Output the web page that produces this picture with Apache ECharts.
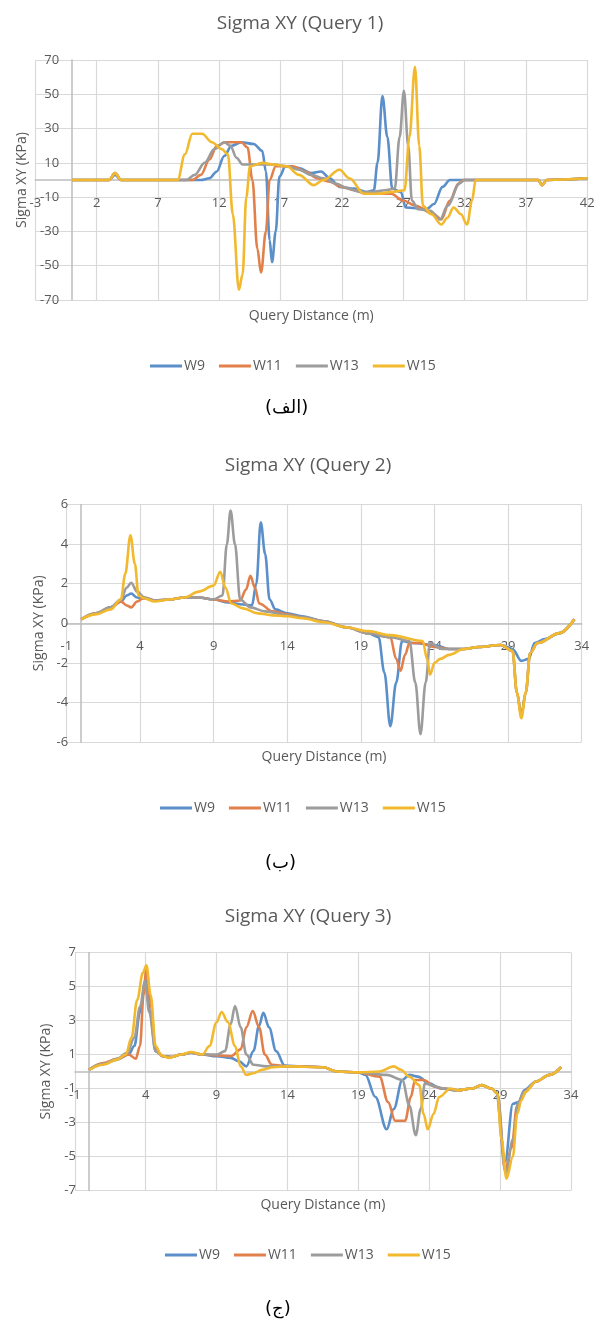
<!DOCTYPE html>
<html>
<head>
<meta charset="utf-8">
<title>Sigma XY</title>
<script src="https://cdn.jsdelivr.net/npm/echarts@6/dist/echarts.min.js"></script>
<style>
  html, body { margin: 0; padding: 0; background: #fff; }
  #chart { width: 597px; height: 1320px; }
</style>
</head>
<body>
<div id="chart"></div>
<script>
// series names and captions
const seriesNames = ["W9", "W11", "W13", "W15"];
const captions = ["(الف)", "(ب)", "(ج)"];
const titles = ["Sigma XY (Query 1)", "Sigma XY (Query 2)", "Sigma XY (Query 3)"];

// axis ranges [min, max, interval]
const q1XAxis = [-3, 42, 5];
const q1YAxis = [-70, 70, 20];
const q2XAxis = [-1, 34, 5];
const q2YAxis = [-6, 6, 2];
const q3XAxis = [-1, 34, 5];
const q3YAxis = [-7, 7, 2];

// Query 1  [distance, sigma]
const q1W9 = [[0,0],[3,0],[3.5,3],[4,0],[10.5,0],[11.2,1],[11.8,5],[12.4,14],[13,20],[13.8,22],[14.8,21],[15.5,17],[15.8,5],[16.1,-35],[16.3,-48],[16.6,-30],[16.9,2],[17.4,8],[18.5,7],[19.5,4],[20.3,5],[21,1],[21.8,-4],[23,-5],[24,-7],[24.6,-6],[24.9,10],[25.3,49],[25.7,25],[26.1,-5],[26.8,-7],[27.2,-16],[28.9,-17],[29.5,-14],[30.2,-4],[30.8,0],[38,0],[38.3,-3],[38.7,0],[42,1]];
const q1W11 = [[0,0],[3,0],[3.5,4],[4,0],[9.8,0],[10.5,3],[11.2,12],[11.8,20],[12.5,22],[13.8,22],[14.3,19],[14.7,0],[15.1,-40],[15.4,-54],[15.8,-30],[16.1,0],[16.6,8],[18,8],[19,5],[20,1],[21,-1],[22,-4],[23,-6],[24,-8],[25,-8],[26,-8],[27,-12],[28,-15],[29.5,-20],[30.1,-23],[30.8,-12],[31.5,-2],[31.9,0],[38,0],[38.3,-3],[38.7,0],[42,1]];
const q1W13 = [[0,0],[3,0],[3.5,4],[4,0],[9.3,0],[10,3],[10.8,10],[11.6,18],[12.4,22],[12.9,20],[13.4,13],[13.9,9],[15,9],[16.5,9],[17.5,8],[18.5,6],[19.5,3],[20.5,1],[21.5,-2],[22.5,-5],[23.5,-7],[24.5,-7],[25.5,-6],[26.3,-5],[26.7,25],[27.05,52],[27.4,20],[27.7,-12],[28.2,-17],[29.2,-18],[30,-23],[30.6,-15],[31.6,-2],[32,0],[38,0],[38.3,-3],[38.7,0],[42,1]];
const q1W15 = [[0,0],[3,0],[3.5,4],[4,0],[8.6,0],[9.2,15],[9.8,27],[10.6,27],[11.4,22],[12.2,18],[12.7,15],[13.1,-20],[13.6,-64],[13.9,-55],[14.2,-10],[14.5,8],[15.5,10],[16.5,9],[17.5,8],[18.5,3],[19.7,-3],[20.5,0],[21.8,6],[22.6,1],[23.8,-8],[25,-8],[26,-7],[27.1,-6],[27.5,25],[27.95,66],[28.3,20],[28.6,-15],[29.3,-20],[30.1,-26],[30.6,-22],[31.1,-16],[31.7,-20],[32.2,-26],[32.6,-12],[32.9,0],[38,0],[38.3,-3],[38.7,0],[42,1]];

// Query 2
const q2W9 = [[0,0.2],[1,0.5],[2,0.8],[2.7,1.1],[3.1,1.4],[3.4,1.5],[3.8,1.3],[4.3,1.25],[5,1.15],[6,1.2],[7,1.3],[8,1.3],[9,1.2],[10,1.05],[11,0.95],[11.6,0.9],[11.9,2],[12.2,5.1],[12.5,3.5],[12.8,1.2],[13.2,0.7],[14,0.5],[15,0.35],[16.5,0.1],[18,-0.2],[19.5,-0.5],[20.2,-0.7],[20.6,-2.5],[21,-5.2],[21.4,-3],[21.8,-0.9],[22.5,-1],[24,-1.1],[25,-1.3],[26,-1.3],[27,-1.2],[28.5,-1.1],[29.3,-1.3],[29.9,-1.9],[30.4,-1.8],[30.8,-1],[31.5,-0.8],[32.5,-0.5],[33.5,0.2]];
const q2W11 = [[0,0.2],[1,0.5],[2,0.8],[2.7,1.1],[3.1,0.9],[3.4,0.8],[3.8,1.1],[4.3,1.3],[5,1.15],[6,1.2],[7,1.3],[8,1.3],[9,1.2],[10,1.1],[10.8,1.15],[11.2,1.7],[11.5,2.4],[11.8,1.8],[12.1,1],[13,0.6],[14,0.45],[15,0.3],[16.5,0.1],[18,-0.2],[19.5,-0.5],[21,-0.7],[21.4,-1.8],[21.7,-2.4],[22,-1.6],[22.3,-1],[23,-1],[24,-1.2],[25,-1.3],[26,-1.3],[27,-1.2],[28.5,-1.1],[29.3,-1.4],[29.6,-3.5],[29.9,-4.7],[30.2,-3.5],[30.5,-1.5],[31,-1],[32.5,-0.5],[33.5,0.2]];
const q2W13 = [[0,0.2],[1,0.5],[2,0.8],[2.7,1.2],[3.1,1.8],[3.4,2.05],[3.8,1.6],[4.3,1.3],[5,1.15],[6,1.2],[7,1.3],[8,1.3],[9,1.2],[9.6,1.4],[9.9,4],[10.15,5.7],[10.45,4],[10.8,1.2],[11.5,0.8],[12.5,0.6],[14,0.4],[15,0.3],[16.5,0.1],[18,-0.2],[19.5,-0.5],[21,-0.7],[22.3,-0.9],[22.7,-3],[23.05,-5.6],[23.4,-3],[23.7,-1],[24.5,-1.3],[25,-1.3],[26,-1.3],[27,-1.2],[28.5,-1.1],[29.3,-1.4],[29.6,-3.5],[29.9,-4.6],[30.2,-3.5],[30.5,-1.5],[31,-1],[32.5,-0.5],[33.5,0.2]];
const q2W15 = [[0,0.2],[1,0.45],[2,0.7],[2.7,1.2],[3,2.5],[3.35,4.45],[3.65,3],[3.9,1.4],[4.3,1.25],[5,1.1],[6,1.2],[7,1.3],[8,1.6],[9,1.9],[9.45,2.6],[9.8,1.8],[10.2,1],[11,0.75],[12,0.5],[13,0.4],[14,0.35],[15,0.25],[16.5,0.05],[18,-0.2],[19.5,-0.4],[21,-0.6],[23.2,-0.9],[23.5,-1.8],[23.7,-2.6],[24,-2],[24.4,-1.8],[25,-1.6],[26,-1.3],[27,-1.2],[28.5,-1.1],[29.3,-1.4],[29.6,-3.5],[29.9,-4.8],[30.2,-3.5],[30.5,-1.5],[31,-1],[32.5,-0.5],[33.5,0.2]];

// Query 3
const q3W9 = [[0,0.1],[1,0.45],[2,0.7],[2.8,1],[3.2,1.5],[3.6,3.5],[4,5.4],[4.3,3.5],[4.7,1.2],[5.2,0.9],[5.8,0.85],[6.5,1],[7.2,1.1],[8,1],[9,0.9],[10,0.8],[10.6,0.6],[11.1,0.3],[11.6,1.2],[12,2.7],[12.3,3.45],[12.7,2.6],[13.2,1.2],[13.8,0.35],[15,0.3],[16.5,0.25],[17.5,0],[19,-0.05],[19.5,-0.2],[20.2,-1.5],[21,-3.4],[21.5,-2.2],[22.1,-0.5],[22.6,-0.2],[23.2,-0.3],[24,-0.7],[24.8,-1],[26,-1.1],[27,-1],[27.7,-0.8],[28.4,-1],[28.7,-1.2],[29.35,-5.3],[29.9,-1.9],[30.3,-1.8],[30.7,-1.1],[31.5,-0.6],[32.5,-0.2],[33.3,0.25]];
const q3W11 = [[0,0.1],[1,0.5],[2,0.75],[2.8,1],[3.3,0.75],[3.6,1.5],[3.85,4.5],[4.05,6.1],[4.35,4],[4.7,1.3],[5.2,0.9],[5.8,0.85],[6.5,1],[7.2,1.1],[8,1],[9,0.95],[10,0.9],[10.7,1.3],[11.1,2.6],[11.55,3.55],[12,2.6],[12.4,1],[12.9,0.4],[14,0.3],[15,0.3],[16.5,0.25],[17.5,0],[19,-0.05],[20.5,-0.3],[21.1,-1.8],[21.6,-2.9],[22.3,-2.9],[22.7,-1.5],[23,-0.5],[23.6,-0.5],[24.4,-0.9],[25,-1],[26,-1.1],[27,-1],[27.7,-0.8],[28.4,-1],[28.8,-1.3],[29.35,-5.8],[29.8,-4.5],[30.2,-2],[30.6,-1.4],[31,-1],[31.5,-0.6],[32.5,-0.2],[33.3,0.25]];
const q3W13 = [[0,0.1],[1,0.45],[2,0.75],[2.7,1.1],[3.2,2],[3.6,3.8],[3.95,5.3],[4.25,3.5],[4.7,1.2],[5.2,0.9],[5.8,0.85],[6.5,1],[7.2,1.1],[8,1],[9,1],[9.6,1.2],[10,2.8],[10.3,3.85],[10.7,2.6],[11.1,1],[11.6,0.4],[12.5,0.3],[14,0.3],[16.5,0.25],[17.5,0],[19,-0.05],[21,-0.2],[22.1,-0.5],[22.6,-2],[23.05,-3.75],[23.4,-2.2],[23.7,-0.7],[24.5,-0.9],[25,-1],[26,-1.1],[27,-1],[27.7,-0.8],[28.4,-1],[28.8,-1.3],[29.4,-6],[29.9,-4],[30.3,-1.8],[30.7,-1.2],[31.5,-0.6],[32.5,-0.2],[33.3,0.25]];
const q3W15 = [[0,0.1],[1,0.4],[2,0.7],[2.6,1],[3,2],[3.4,4.2],[3.8,5.8],[4.05,6.25],[4.35,4.5],[4.7,1.5],[5.1,0.95],[5.6,0.8],[6.5,1],[7.2,1.15],[8,1],[8.5,1.5],[9,2.9],[9.35,3.5],[9.8,2.9],[10.3,1.5],[10.7,0.3],[11.1,-0.2],[11.6,-0.1],[12.2,0.1],[13,0.25],[14,0.3],[16.5,0.25],[17.5,0],[19,-0.05],[20.5,0],[21.5,0.3],[22,0.1],[22.6,-0.3],[23.3,-0.8],[23.6,-2.5],[23.9,-3.4],[24.3,-2.5],[24.7,-1.5],[25.5,-1],[26,-1.1],[27,-1],[27.7,-0.8],[28.4,-1],[28.8,-1.3],[29.1,-4],[29.45,-6.3],[29.9,-5],[30.2,-2.5],[30.5,-1.7],[30.8,-1.2],[31.5,-0.6],[32.5,-0.2],[33.3,0.25]];

const colors = ["#5b8fc9", "#e2804c", "#9c9c9c", "#f2b92e"];
const textColor = "#595959";
const font = "'Open Sans', sans-serif";

// layout of the three panels (pixels)
const panels = [
  { x: q1XAxis, y: q1YAxis, data: [q1W9, q1W11, q1W13, q1W15],
    grid: { left: 35.3, top: 60, width: 552, height: 240 },
    titleTop: 14, titleX: 300, yNameGap: 41, xNameGap: 129, legendTop: 359, legendLeft: 150, captionY: 407 },
  { x: q2XAxis, y: q2YAxis, data: [q2W9, q2W11, q2W13, q2W15],
    grid: { left: 66.4, top: 504.5, width: 515.3, height: 237.5 },
    titleTop: 456, titleX: 308, yNameGap: 31, xNameGap: 127, legendTop: 801, legendLeft: 160, captionY: 862 },
  { x: q3XAxis, y: q3YAxis, data: [q3W9, q3W11, q3W13, q3W15],
    grid: { left: 74.8, top: 952.5, width: 496.2, height: 238 },
    titleTop: 907, titleX: 308, yNameGap: 27, xNameGap: 127, legendTop: 1248, legendLeft: 165, captionY: 1308 }
];

const option = {
  animation: false,
  backgroundColor: "#fff",
  title: [],
  legend: [],
  grid: [],
  xAxis: [],
  yAxis: [],
  series: [],
  graphic: []
};

panels.forEach((p, i) => {
  // put both axes through the origin, like Excel does
  const xShift = -p.grid.height * (0 - p.y[0]) / (p.y[1] - p.y[0]);
  const yShift = -p.grid.width * (0 - p.x[0]) / (p.x[1] - p.x[0]);

  option.title.push({
    text: titles[i],
    left: p.titleX,
    top: p.titleTop,
    textAlign: "center",
    padding: 0,
    textStyle: { color: textColor, fontSize: 19, fontWeight: "normal", fontFamily: font }
  });
  option.grid.push(Object.assign({ outerBoundsMode: "none", containLabel: false }, p.grid));
  option.xAxis.push({
    type: "value",
    gridIndex: i,
    position: "bottom",
    offset: xShift,
    min: p.x[0],
    max: p.x[1],
    interval: p.x[2],
    name: "Query Distance (m)",
    nameLocation: "middle",
    nameGap: p.xNameGap,
    nameTextStyle: { color: textColor, fontSize: 14, fontFamily: font },
    axisLine: { show: true, onZero: false, lineStyle: { color: "#bdbdbd", width: 1.5 } },
    axisTick: { show: false },
    axisLabel: { color: textColor, fontSize: 13, fontFamily: font, margin: 17 },
    splitLine: { show: true, lineStyle: { color: "#d9d9d9", width: 1.2 } }
  });
  option.yAxis.push({
    type: "value",
    gridIndex: i,
    position: "left",
    offset: yShift,
    min: p.y[0],
    max: p.y[1],
    interval: p.y[2],
    name: "Sigma XY (KPa)",
    nameLocation: "middle",
    nameGap: p.yNameGap,
    nameTextStyle: { color: textColor, fontSize: 14, fontFamily: font },
    axisLine: { show: true, onZero: false, lineStyle: { color: "#bdbdbd", width: 1.5 } },
    axisTick: { show: false },
    axisLabel: { color: textColor, fontSize: 13, fontFamily: font, margin: 13 },
    splitLine: { show: true, lineStyle: { color: "#d9d9d9", width: 1.2 } }
  });
  p.data.forEach((d, k) => {
    option.series.push({
      name: seriesNames[k],
      type: "line",
      xAxisIndex: i,
      yAxisIndex: i,
      data: d,
      smooth: 0.35,
      smoothMonotone: "x",
      symbol: "none",
      lineStyle: { color: colors[k], width: 2.6 },
      itemStyle: { color: colors[k] }
    });
  });
  option.legend.push({
    data: seriesNames,
    top: p.legendTop,
    left: p.legendLeft,
    icon: "rect",
    itemWidth: 32,
    itemHeight: 3,
    itemGap: 14,
    padding: 0,
    selectedMode: false,
    textStyle: { color: textColor, fontSize: 14, fontFamily: font, padding: [0, 0, 0, -3] }
  });
  option.graphic.push({
    type: "text",
    left: 290 - 25,
    top: p.captionY - 8,
    style: {
      text: captions[i],
      fill: "#000",
      fontSize: 18,
      fontFamily: "'DejaVu Sans', sans-serif"
    }
  });
});

const chart = echarts.init(document.getElementById("chart"));
chart.setOption(option);
</script>
</body>
</html>
